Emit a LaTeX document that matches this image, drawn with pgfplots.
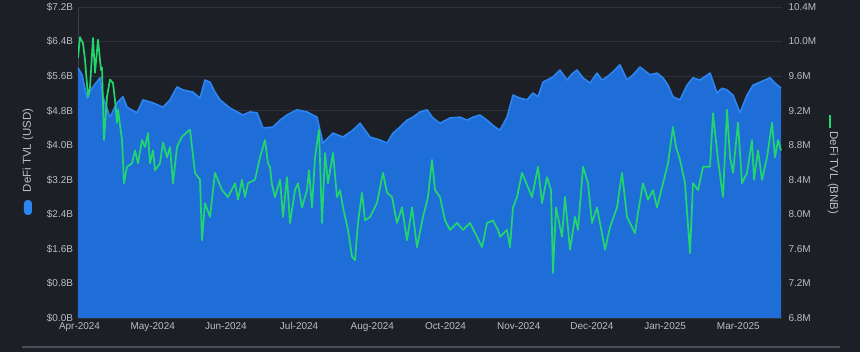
\documentclass[border=0pt]{standalone}
\usepackage{pgfplots}
\usepackage{pgfplotstable}
\pgfplotsset{compat=1.18}
\usepackage{fontspec}
\setmainfont{Liberation Sans}
\definecolor{bg}{HTML}{1C2026}
\definecolor{areablue}{HTML}{1F6ED8}
\definecolor{edgeblue}{HTML}{2C85F2}
\definecolor{lgreen}{HTML}{22D66E}
\definecolor{txt}{HTML}{B9BEC6}
\definecolor{gridc}{HTML}{2D323A}
\definecolor{axisc}{HTML}{3A3F48}
\definecolor{bottomline}{HTML}{4A505A}

\pgfplotstableread{
x y
0 5.79
4 5.63
9 5.09
14 5.32
22 5.56
25 5.12
32 4.65
39 4.98
45 5.12
49 4.88
59 4.75
65 5.05
75 4.98
85 4.88
92 5.05
99 5.35
105 5.28
115 5.23
122 5.09
127 5.51
132 5.46
137 5.23
142 5.05
152 4.86
165 4.70
172 4.77
179 4.75
185 4.40
195 4.42
202 4.58
209 4.70
219 4.82
229 4.77
239 4.65
245 4.05
255 4.28
265 4.19
275 4.35
282 4.51
292 4.19
302 4.12
309 4.05
315 4.28
322 4.42
329 4.58
335 4.65
342 4.77
349 4.82
355 4.63
362 4.51
372 4.63
382 4.65
389 4.58
395 4.65
402 4.70
409 4.58
417 4.42
422 4.35
429 4.65
435 5.16
442 5.09
449 5.05
455 5.21
460 5.12
465 5.46
475 5.58
482 5.74
489 5.51
494 5.65
499 5.74
505 5.56
512 5.44
519 5.67
524 5.51
529 5.58
535 5.70
542 5.86
549 5.51
555 5.63
562 5.81
572 5.63
579 5.67
585 5.56
590 5.39
595 5.12
602 5.05
609 5.39
615 5.56
622 5.51
632 5.67
639 5.21
644 5.32
649 5.28
655 5.16
662 4.75
669 5.16
675 5.39
682 5.46
692 5.56
697 5.44
703 5.32
}\usdtable

\pgfplotstableread{
x y
0 9.81
2 10.05
5 9.98
7 9.79
10 9.36
12 9.47
15 10.04
17 9.64
20 10.02
23 9.67
24 9.70
26 8.86
29 9.36
32 9.56
35 9.52
37 9.32
39 9.06
40 9.21
44 8.86
46 8.36
49 8.55
54 8.59
57 8.74
60 8.59
64 8.86
67 8.78
70 8.94
72 8.59
75 8.74
77 8.51
82 8.59
85 8.83
89 8.66
92 8.78
95 8.36
99 8.78
104 8.90
112 8.98
117 8.48
122 8.40
124 7.70
127 8.13
132 7.97
137 8.48
144 8.28
150 8.20
157 8.36
160 8.17
164 8.40
167 8.20
170 8.36
177 8.40
182 8.66
187 8.86
190 8.59
192 8.55
194 8.34
197 8.20
202 8.40
205 7.97
209 8.43
212 7.90
217 8.28
220 8.36
224 8.08
229 8.28
231 8.51
234 8.08
237 8.66
241 8.98
244 7.90
247 8.71
250 8.36
255 8.71
259 8.20
262 8.28
265 8.08
270 7.82
274 7.51
277 7.47
280 7.90
284 8.25
287 7.93
292 7.97
299 8.13
305 8.48
309 8.25
314 8.20
319 7.90
324 8.08
329 7.70
334 8.08
339 7.62
345 7.97
350 8.20
354 8.63
357 8.28
362 8.20
367 7.93
372 7.82
379 7.90
385 7.82
392 7.90
399 7.74
404 7.62
409 7.90
415 7.93
420 7.82
422 7.74
429 7.82
432 7.62
435 8.08
439 8.20
444 8.48
449 8.34
454 8.20
460 8.55
464 8.13
469 8.43
473 8.28
475 7.32
478 8.08
484 7.74
487 8.20
492 7.59
497 7.97
500 7.82
505 8.55
510 8.36
514 7.90
519 8.08
522 7.90
527 7.59
532 7.85
539 8.08
544 8.48
549 7.97
552 7.90
557 7.78
560 8.02
565 8.36
570 8.17
575 8.28
579 8.08
585 8.36
590 8.59
595 9.01
598 8.78
602 8.63
607 8.36
612 7.55
615 8.36
620 8.28
625 8.55
632 8.55
635 9.17
640 8.63
645 8.20
649 9.21
652 8.66
655 8.48
660 9.06
664 8.36
669 8.48
674 8.86
676 8.40
680 8.74
684 8.40
689 8.66
694 9.06
697 8.66
700 8.86
703 8.74
}\bnbtable

\begin{document}
\begin{tikzpicture}
\fill[bg] (-78bp,-34bp) rectangle (782bp,318bp);
\begin{axis}[
  at={(0,0)}, anchor=south west,
  scale only axis, width=704bp, height=311bp,
  xmin=0, xmax=704, ymin=0, ymax=7.2,
  axis y line*=left, axis x line*=bottom,
  x axis line style={draw=none},
  y axis line style={draw=axisc, line width=0.8bp},
  major tick length=0,
  ytick={0,0.8,1.6,2.4,3.2,4.0,4.8,5.6,6.4,7.2},
  yticklabels={\$0.0B,\$0.8B,\$1.6B,\$2.4B,\$3.2B,\$4.0B,\$4.8B,\$5.6B,\$6.4B,\$7.2B},
  xtick={1.5,74.7,147.9,221.1,294.3,367.5,440.7,513.9,587.1,660.3},
  xticklabels={Apr-2024,May-2024,Jun-2024,Jul-2024,Aug-2024,Oct-2024,Nov-2024,Dec-2024,Jan-2025,Mar-2025},
  ymajorgrids, grid style={gridc, line width=0.7bp},
  tick label style={font=\fontsize{10}{12}\selectfont, text=txt},
  yticklabel style={xshift=-1.5bp},
  xticklabel style={yshift=-1bp},
]
\addplot[fill=areablue, draw=none] table[x=x,y=y] {\usdtable} \closedcycle;
\addplot[edgeblue, line width=1.6bp, line join=round] table[x=x,y=y] {\usdtable};
\end{axis}
\begin{axis}[
  at={(0,0)}, anchor=south west,
  scale only axis, width=704bp, height=311bp,
  xmin=0, xmax=704, ymin=6.8, ymax=10.4,
  axis y line*=right, axis x line=none,
  y axis line style={draw=none},
  major tick length=0,
  ytick={6.8,7.2,7.6,8.0,8.4,8.8,9.2,9.6,10.0,10.4},
  yticklabels={6.8M,7.2M,7.6M,8.0M,8.4M,8.8M,9.2M,9.6M,10.0M,10.4M},
  tick label style={font=\fontsize{10}{12}\selectfont, text=txt},
  yticklabel style={xshift=3bp},
]
\addplot[lgreen, line width=1.7bp, line join=round] table[x=x,y=y] {\bnbtable};
\end{axis}
\node[rotate=90, text=txt, font=\fontsize{11.5}{13}\selectfont] at (-50bp,167.5bp) {DeFi TVL (USD)};
\fill[edgeblue, rounded corners=3.5bp] (-54bp,103bp) rectangle (-46bp,118bp);
\node[rotate=-90, text=txt, font=\fontsize{11.5}{13}\selectfont] at (755bp,145bp) {DeFi TVL (BNB)};
\draw[lgreen, line width=2.5bp] (752bp,190bp) -- (752bp,203bp);
\draw[bottomline, line width=2bp] (-56bp,-28.5bp) -- (762bp,-28.5bp);
\pgfresetboundingbox
\path[use as bounding box] (-78bp,-34bp) rectangle (782bp,318bp);
\end{tikzpicture}
\end{document}
